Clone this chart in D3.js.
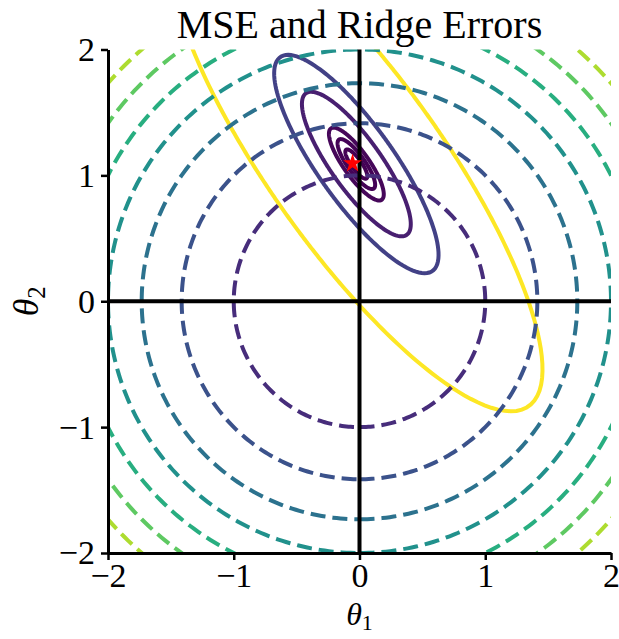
<!DOCTYPE html>
<html>
<head>
<meta charset="utf-8">
<script src="https://cdn.jsdelivr.net/npm/d3@7"></script>
<style>
  body { margin: 0; background: #fff; }
  svg { display: block; }
  .tick text { font-family: "Liberation Serif", "Times New Roman", serif; }
</style>
</head>
<body>
<div id="chart"></div>
<script>
// axis ticks
let ticks = [-2, -1, 0, 1, 2];

// ridge penalty contours: theta1^2 + theta2^2 = level
let ridgeLevels = [1, 2, 3, 4, 5, 6, 7];
let ridgeColorDomain = [0, 8];

// MSE contours: (theta - c)' A (theta - c) = level
let mseCenter = [-0.025, 1.09];
let mseA = [[1.47, 0.92], [0.92, 0.835]];
let mseLevels = [0.0035, 0.0102, 0.0217, 0.0855, 0.195, 1.0];

// least squares optimum (red star)
let optimum = [-0.055, 1.095];

const width = 619, height = 639;
const plotLeft = 108, plotRight = 611, plotTop = 49.5, plotBottom = 553;

let x = d3.scaleLinear().domain([-2, 2]).range([plotLeft, plotRight]);
let y = d3.scaleLinear().domain([-2, 2]).range([plotBottom, plotTop]);

let svg = d3.select('#chart').append('svg')
    .attr('width', width)
    .attr('height', height);

svg.append('clipPath')
    .attr('id', 'plotclip')
    .append('rect')
    .attr('x', plotLeft)
    .attr('y', plotTop)
    .attr('width', plotRight - plotLeft)
    .attr('height', plotBottom - plotTop);

let plot = svg.append('g').attr('clip-path', 'url(#plotclip)');

let line = d3.line()
    .x(d => x(d[0]))
    .y(d => y(d[1]));

let angles = d3.range(0, 361, 1).map(a => a * Math.PI / 180);

// points on the ellipse (theta-c)'A(theta-c) = level
function ellipsePoints(level){
    return angles.map(function(t){
        let c = Math.cos(t), s = Math.sin(t);
        let q = mseA[0][0]*c*c + 2*mseA[0][1]*c*s + mseA[1][1]*s*s;
        let r = Math.sqrt(level / q);
        return [mseCenter[0] + r*c, mseCenter[1] + r*s];
    });
}

function circlePoints(level){
    let r = Math.sqrt(level);
    return angles.map(t => [r*Math.cos(t - Math.PI/2), r*Math.sin(t - Math.PI/2)]);
}

let mseColor = d3.scaleSequential(d3.interpolateViridis)
    .domain(d3.extent(mseLevels));
let ridgeColor = d3.scaleSequential(d3.interpolateViridis)
    .domain(ridgeColorDomain);

plot.selectAll('.mse')
    .data(mseLevels)
    .enter()
    .append('path')
    .attr('class', 'mse')
    .attr('d', d => line(ellipsePoints(d)))
    .attr('fill', 'none')
    .attr('stroke', d => mseColor(d))
    .attr('stroke-width', 4);

plot.selectAll('.ridge')
    .data(ridgeLevels)
    .enter()
    .append('path')
    .attr('class', 'ridge')
    .attr('d', d => line(circlePoints(d)))
    .attr('fill', 'none')
    .attr('stroke', d => ridgeColor(d))
    .attr('stroke-width', 4)
    .attr('stroke-dasharray', '15,7');

// zero lines
svg.append('line')
    .attr('x1', x(-2)).attr('x2', x(2))
    .attr('y1', y(0)).attr('y2', y(0))
    .attr('stroke', 'black')
    .attr('stroke-width', 4);

svg.append('line')
    .attr('x1', x(0)).attr('x2', x(0))
    .attr('y1', y(-2)).attr('y2', y(2))
    .attr('stroke', 'black')
    .attr('stroke-width', 4);

svg.append('path')
    .attr('d', d3.symbol().type(d3.symbolStar).size(110)())
    .attr('transform', `translate(${x(optimum[0])},${y(optimum[1])})`)
    .attr('fill', 'red');

// axes
let fmt = d3.format('d');

let xAxis = svg.append('g')
    .attr('transform', `translate(0,${plotBottom})`)
    .call(d3.axisBottom(x).tickValues(ticks).tickFormat(fmt).tickSize(7).tickSizeOuter(0).tickPadding(3));

let yAxis = svg.append('g')
    .attr('transform', `translate(${plotLeft},0)`)
    .call(d3.axisLeft(y).tickValues(ticks).tickFormat(fmt).tickSize(7).tickSizeOuter(0).tickPadding(6));

[xAxis, yAxis].forEach(function(g){
    g.select('.domain').attr('stroke', 'black').attr('stroke-width', 3);
    g.selectAll('.tick line').attr('stroke', 'black').attr('stroke-width', 2.5);
    g.selectAll('.tick text')
        .attr('fill', 'black')
        .style('font-size', '34px');
});

// title and labels
svg.append('text')
    .attr('x', (plotLeft + plotRight) / 2)
    .attr('y', 38)
    .attr('text-anchor', 'middle')
    .style('font-family', '"Liberation Serif", "Times New Roman", serif')
    .style('font-size', '40px')
    .text('MSE and Ridge Errors');

let xLabel = svg.append('text')
    .attr('x', x(0))
    .attr('y', 625)
    .attr('text-anchor', 'middle')
    .style('font-family', '"Liberation Serif", "Times New Roman", serif')
    .style('font-size', '32px');
xLabel.append('tspan').style('font-style', 'italic').text('θ');
xLabel.append('tspan').attr('dy', 5).style('font-size', '22px').text('1');

let yLabel = svg.append('text')
    .attr('transform', `translate(38,${y(0)}) rotate(-90)`)
    .attr('text-anchor', 'middle')
    .style('font-family', '"Liberation Serif", "Times New Roman", serif')
    .style('font-size', '36px');
yLabel.append('tspan').style('font-style', 'italic').text('θ');
yLabel.append('tspan').attr('dy', 7).style('font-size', '25px').text('2');
</script>
</body>
</html>
